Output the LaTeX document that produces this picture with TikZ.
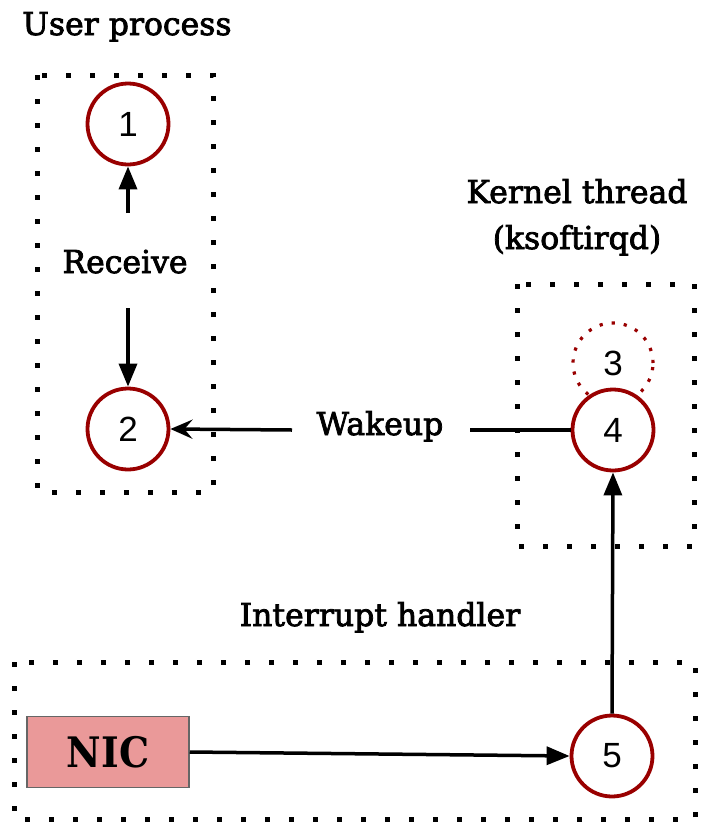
\documentclass[tikz,border=0pt]{standalone}
\usepackage{fontspec}
\setmainfont{DejaVu Serif}
\newfontfamily\lblfont[FakeBold=2.5]{DejaVu Serif}
\newfontfamily\numfont{Liberation Sans}
\newfontfamily\nicfont{DejaVu Serif Condensed}
\usetikzlibrary{arrows.meta}
\definecolor{cred}{HTML}{990000}
\definecolor{nicfill}{HTML}{EA9999}
\tikzset{
  grp/.style={draw=black, line width=5pt, dash pattern=on 5pt off 19pt},
  stepcirc/.style={circle, draw=cred, line width=3.8pt, minimum size=81pt, inner sep=0pt, font=\numfont\fontsize{35}{40}\selectfont},
  ghostcirc/.style={circle, draw=cred, line width=3.2pt, dash pattern=on 3.2pt off 9pt, minimum size=80pt, inner sep=0pt, font=\numfont\fontsize{35}{40}\selectfont},
  lbl/.style={font=\lblfont\fontsize{31.5}{38}\selectfont, anchor=base},
  conn/.style={line width=3.5pt, -{Triangle[length=23pt,width=18pt]}},
  plain/.style={line width=3.5pt},
  wake/.style={line width=3.5pt, -{Stealth[length=22pt,width=19pt,inset=8pt]}}
}
\begin{document}
\begin{tikzpicture}[x=1pt,y=-1pt]
\useasboundingbox (0,0) rectangle (710,823);
% group boxes
\draw[grp] (37,75) rectangle (213,492);
\draw[grp] (517,284) rectangle (694,546);
\draw[grp] (14,662) rectangle (695,819);
% titles
\node[lbl] (tuser) at (127,35) {User process};
\node[lbl] (tk1) at (577,203) {Kernel thread};
\node[lbl] (tk2) at (577,249) {(ksoftirqd)};
\node[lbl] (tint) at (380,626) {Interrupt handler};
% circles
\node[stepcirc] (c1) at (128,124) {1};
\node[stepcirc] (c2) at (128,429) {2};
\node[ghostcirc] (c3) at (613,363) {3};
\node[stepcirc, fill=white] (c4) at (613,430) {4};
\node[stepcirc] (c5) at (612,756) {5};
% NIC
\node[draw=black!60, line width=1.5pt, fill=nicfill, minimum width=162pt, minimum height=71pt, inner sep=0pt, font=\nicfont\bfseries\fontsize{42}{46}\selectfont] (nic) at (108,752) {NIC};
% labels
\node[lbl] (recv) at (125,273) {Receive};
\node[lbl] (wk) at (380,435) {Wakeup};
\coordinate (rcvtop) at (128,213);
\coordinate (rcvbot) at (128,308);
\coordinate (wkl) at (292,430);
\coordinate (wkr) at (470,430);
% connectors
\draw[conn] (rcvtop) -- (c1.south);
\draw[conn] (rcvbot) -- (c2.north);
\draw[wake] (wkl) -- (c2.east);
\draw[plain] (c4.west) -- (wkr);
\draw[conn] (nic.east) -- (c5.west);
\draw[conn] (c5.north) -- (c4.south);
\end{tikzpicture}
\end{document}
